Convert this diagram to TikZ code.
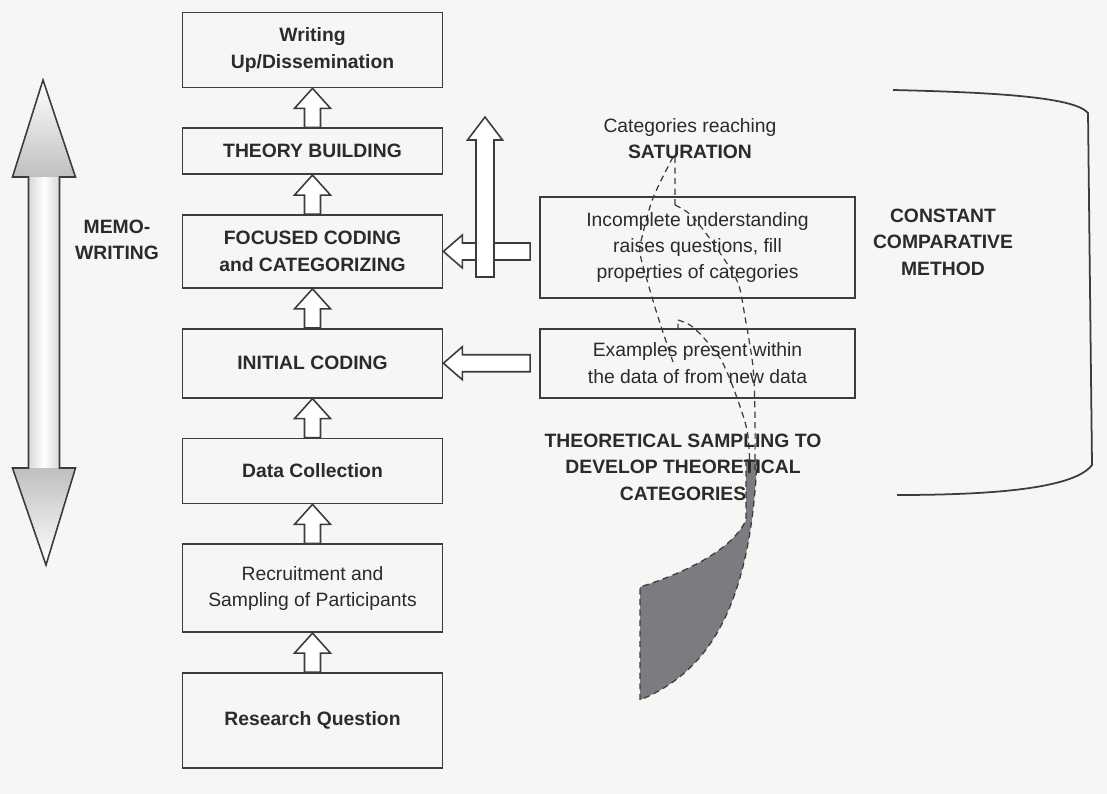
\documentclass[tikz,border=0pt]{standalone}
\usepackage{fontspec}
\setmainfont{Liberation Sans}
\usetikzlibrary{positioning,calc}
\definecolor{ink}{HTML}{2B2B2B}
\definecolor{edge}{HTML}{3C3C3C}
\definecolor{paper}{HTML}{F6F6F4}
\definecolor{tail}{HTML}{7B7B80}
\newcommand{\fsz}{\fontsize{11pt}{15pt}\selectfont}
\tikzset{
  box/.style={draw=edge, line width=1pt, minimum width=5.2cm, align=center,
    text=ink, inner sep=4pt, font=\fsz},
  bbox/.style={box, font=\fsz\bfseries},
  sidebox/.style={draw=edge, line width=1pt, minimum width=6.3cm, align=center,
    text=ink, font=\fsz},
  blk/.style={draw=edge, line width=0.9pt, fill=white, line join=miter},
  lab/.style={font=\fsz\bfseries, text=ink, align=center},
  dsh/.style={draw=edge, line width=0.7pt, dash pattern=on 3.5pt off 2.5pt},
}
\newcommand{\blockup}[2]{%
  \draw[blk] ($(#1.north)+(-0.16,0)$) -- ($(#2.south)+(-0.16,-0.4)$) -- ++(-0.2,0)
    -- (#2.south) -- ++(0.36,-0.4) -- ++(-0.2,0) -- ($(#1.north)+(0.16,0)$) -- cycle;}
\newcommand{\blockleft}[2]{%
  \draw[blk] ($(#1.east -| #2.west)+(-0.18,0.17)$) -- ($(#1.east)+(0.38,0.17)$) -- ++(0,0.16)
    -- (#1.east) -- ++(0.38,-0.33) -- ++(0,0.16) -- ($(#1.east -| #2.west)+(-0.18,-0.17)$) -- cycle;}

\begin{document}
\begin{tikzpicture}[font=\fsz]
  \fill[paper] (0,0) rectangle (22.14,-15.88);
  % tail of the funnel
  \path[fill=tail, dsh] (14.92,-9.2) -- (14.92,-10.4) .. controls (14.6,-11.1) and (13.4,-11.55) .. (12.8,-11.74)
    -- (12.8,-14.0) .. controls (14.0,-13.5) and (15.0,-12.4) .. (15.14,-9.2) -- cycle;
  \draw[dsh] plot[smooth] coordinates {(13.46,-3.14) (13.06,-3.96) (12.84,-4.74) (12.8,-5.06) (12.94,-5.6) (13.16,-6.34) (13.46,-7.24)};
  \draw[dsh] (13.5,-3.14) -- (13.5,-4.1) plot[smooth] coordinates {(13.5,-4.1) (13.86,-4.34) (14.4,-5.06) (14.76,-5.66) (14.9,-6.34) (15.06,-7.34) (15.1,-8.34) (15.1,-9.4)};
  \draw[dsh] (13.56,-6.6) -- (13.56,-6.4) plot[smooth] coordinates {(13.56,-6.4) (13.8,-6.5) (14.06,-6.74) (14.4,-7.16) (14.66,-7.74) (14.94,-8.6) (15.0,-9.4)};

  % main column
  \node[bbox, minimum height=1.9cm] (rq) at (6.25,-14.41) {Research Question};
  \node[box, minimum height=1.76cm, above=7.8mm of rq] (rec) {Recruitment and\\Sampling of Participants};
  \node[bbox, minimum height=1.3cm, above=7.8mm of rec] (dc) {Data Collection};
  \node[bbox, minimum height=1.38cm, above=7.8mm of dc] (ic) {INITIAL CODING};
  \node[bbox, minimum height=1.46cm, above=7.8mm of ic] (fc) {FOCUSED CODING\\and CATEGORIZING};
  \node[bbox, minimum height=0.92cm, above=7.8mm of fc] (tb) {THEORY BUILDING};
  \node[bbox, minimum height=1.5cm, above=7.8mm of tb] (wu) {Writing\\Up/Dissemination};
  \foreach \i/\j in {rq/rec,rec/dc,dc/ic,ic/fc,fc/tb,tb/wu} \blockup{\i}{\j};

  % right side
  \node[sidebox, minimum height=2.02cm] (inc) at (13.95,-4.95) {Incomplete understanding\\raises questions, fill\\properties of categories};
  \node[sidebox, minimum height=1.38cm, below=5.8mm of inc] (ex) {Examples present within\\the data of from new data};
  \blockleft{fc}{inc}
  \blockleft{ic}{ex}
  \coordinate (satlow) at (9.7,-5.54);
  \coordinate (sathigh) at (9.7,-2.34);
  \draw[blk] ($(satlow)+(-0.18,0)$) -- ($(sathigh)+(-0.18,-0.46)$) -- ++(-0.17,0) -- (sathigh)
    -- ++(0.35,-0.46) -- ++(-0.17,0) -- ($(satlow)+(0.18,0)$) -- cycle;

  \node[text=ink, align=center] (sat) at (13.8,-2.77) {Categories reaching\\\textbf{SATURATION}};
  \node[lab] (theo) at (13.66,-9.34) {THEORETICAL SAMPLING TO\\DEVELOP THEORETICAL\\CATEGORIES};
  \node[lab] (ccm) at (18.86,-4.84) {CONSTANT\\COMPARATIVE\\METHOD};
  \node[lab] (memo) at (2.34,-4.8) {MEMO-\\WRITING};

  % bracket
  \draw[edge, line width=1pt] (17.86,-1.8) .. controls (20.0,-1.85) and (21.5,-1.95) .. (21.76,-2.26)
    -- (21.84,-9.3) .. controls (21.5,-9.75) and (20.0,-9.9) .. (17.94,-9.9);

  % memo-writing double arrow
  \coordinate (memtop) at (0.86,-1.6);
  \coordinate (membot) at (0.92,-11.3);
  \shade[left color=gray!30, right color=gray!30, middle color=white] (0.57,-3.54) rectangle (1.19,-9.36);
  \shade[top color=white, bottom color=gray!50] (memtop) -- (0.25,-3.54) -- (1.51,-3.54) -- cycle;
  \shade[top color=gray!50, bottom color=white] (0.25,-9.36) -- (1.51,-9.36) -- (membot) -- cycle;
  \draw[edge, line width=0.9pt] (memtop) -- (1.51,-3.54) -- (1.19,-3.54) -- (1.19,-9.36) -- (1.51,-9.36)
    -- (membot) -- (0.25,-9.36) -- (0.57,-9.36) -- (0.57,-3.54) -- (0.25,-3.54) -- cycle;
\end{tikzpicture}
\end{document}
